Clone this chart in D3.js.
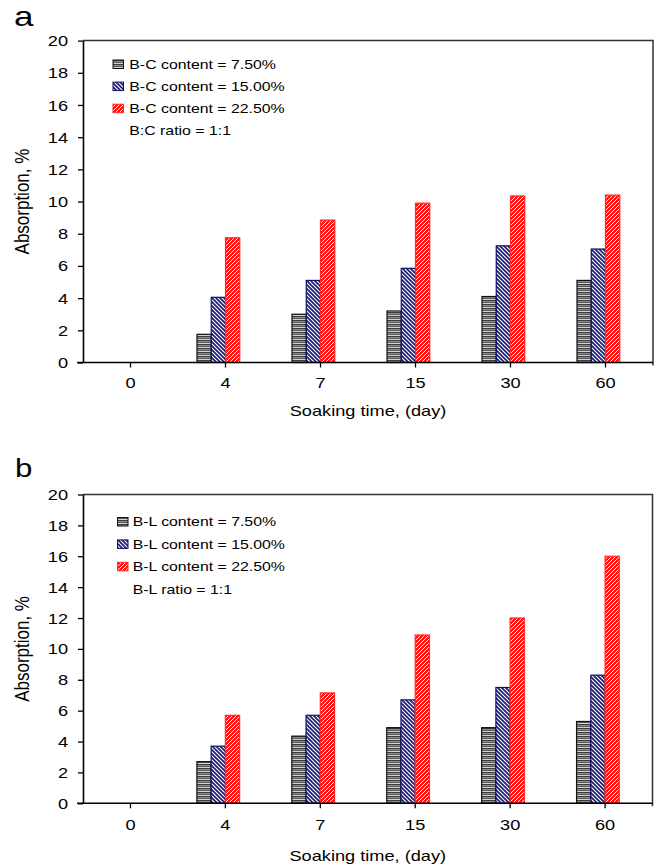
<!DOCTYPE html>
<html>
<head>
<meta charset="utf-8">
<script src="https://cdn.jsdelivr.net/npm/d3@7"></script>
<style>
  body { margin: 0; background: #fff; }
  text { font-family: "Liberation Sans", Arial, sans-serif; fill: #000; }
</style>
</head>
<body>
<svg id="chart" width="661" height="867"></svg>
<script>
// Soaking time categories (days)
const days = ["0", "4", "7", "15", "30", "60"];
const yTicks = [0, 2, 4, 6, 8, 10, 12, 14, 16, 18, 20];

// Panel a: B-C blends, absorption %
const bcLow  = [0, 1.75, 3.0, 3.2, 4.1, 5.1];
const bcMid  = [0, 4.05, 5.1, 5.85, 7.25, 7.05];
const bcHigh = [0, 7.75, 8.85, 9.9, 10.35, 10.4];

// Panel b: B-L blends, absorption %
const blLow  = [0, 2.7, 4.35, 4.9, 4.9, 5.3];
const blMid  = [0, 3.7, 5.7, 6.7, 7.5, 8.3];
const blHigh = [0, 5.7, 7.15, 10.9, 12.0, 16.0];

const bcLabels = ["B-C content = 7.50%", "B-C content = 15.00%", "B-C content = 22.50%"];
const blLabels = ["B-L content = 7.50%", "B-L content = 15.00%", "B-L content = 22.50%"];
const bcNote = "B:C ratio = 1:1";
const blNote = "B-L ratio = 1:1";
const xTitle = "Soaking time, (day)";
const yTitle = "Absorption, %";

const SX = 1.3; // horizontal text stretch

const svg = d3.select("#chart");
const defs = svg.append("defs");

// Horizontal-line gray fill
const pGray = defs.append("pattern").attr("id", "pGray")
  .attr("patternUnits", "userSpaceOnUse").attr("width", 4).attr("height", 4);
["#3c3c3c", "#8c8c8c", "#5a5a5a", "#d2d2d2"].forEach((c, i) =>
  pGray.append("rect").attr("x", 0).attr("y", i).attr("width", 4).attr("height", 1).attr("fill", c));

// Navy with white "\" hatching
const pNavy = defs.append("pattern").attr("id", "pNavy")
  .attr("patternUnits", "userSpaceOnUse").attr("width", 4).attr("height", 4);
pNavy.append("rect").attr("width", 4).attr("height", 4).attr("fill", "#1c1c7a");
pNavy.append("path").attr("d", "M0,0L4,4M-1,3L1,5M3,-1L5,1")
  .attr("stroke", "#fff").attr("stroke-width", 1.1);

// Red with white "/" hatching
const pRed = defs.append("pattern").attr("id", "pRed")
  .attr("patternUnits", "userSpaceOnUse").attr("width", 4).attr("height", 4);
pRed.append("rect").attr("width", 4).attr("height", 4).attr("fill", "#ff1414");
pRed.append("path").attr("d", "M0,4L4,0M-1,1L1,-1M3,5L5,3")
  .attr("stroke", "#fff").attr("stroke-width", 1.0).attr("stroke-opacity", 0.9);

const fills = ["url(#pGray)", "url(#pNavy)", "url(#pRed)"];
const strokes = ["#111", "#10106a", "#ff2a2a"];

const panels = [
  { letter: "a", series: [bcLow, bcMid, bcHigh], labels: bcLabels, note: bcNote,
    left: 83, right: 653, top: 40.6, bottom: 362.5,
    letterX: 14, letterY: 26, letterSize: 28, letterSX: 1.25,
    swX: 113, txX: 129.3, legY0: 64.5, legStep: 22.1, tickLabelDy: 26, titleY: 416 },
  { letter: "b", series: [blLow, blMid, blHigh], labels: blLabels, note: blNote,
    left: 83, right: 652.5, top: 494.5, bottom: 803.3,
    letterX: 15, letterY: 477, letterSize: 25, letterSX: 1.25,
    swX: 117.5, txX: 132.7, legY0: 522, legStep: 22.4, tickLabelDy: 26.7, titleY: 861 }
];

panels.forEach(p => {
  const g = svg.append("g");
  const x = d3.scaleBand().domain(days).range([p.left, p.right])
    .paddingInner(0.4).paddingOuter(0.2);
  // four slots per group: three content levels plus the (empty) ratio entry
  const slots = [0, 1, 2, 3];
  const x1 = d3.scaleBand().domain(slots).range([0, x.bandwidth()]);
  const y = d3.scaleLinear().domain([0, 20]).range([p.bottom, p.top]);

  // bars
  p.series.forEach((vals, si) => {
    g.append("g").selectAll("rect")
      .data(vals.map((v, i) => ({ day: days[i], v })).filter(d => d.v > 0))
      .join("rect")
      .attr("x", d => x(d.day) + x1(si))
      .attr("y", d => y(d.v))
      .attr("width", x1.bandwidth())
      .attr("height", d => y(0) - y(d.v))
      .attr("fill", fills[si])
      .attr("stroke", strokes[si])
      .attr("stroke-width", 1.2);
  });

  // frame: top and right
  g.append("path")
    .attr("d", `M${p.left},${p.top}H${p.right}V${p.bottom + 3}`)
    .attr("fill", "none").attr("stroke", "#333").attr("stroke-width", 1.5);

  // y axis
  const ya = g.append("g").attr("transform", `translate(${p.left},0)`)
    .call(d3.axisLeft(y).tickValues(yTicks).tickSize(5).tickSizeOuter(0));
  ya.select(".domain").attr("stroke", "#000").attr("stroke-width", 1.6);
  ya.selectAll(".tick line").attr("stroke", "#000").attr("stroke-width", 1.3);
  ya.selectAll(".tick text")
    .attr("font-size", 14).attr("font-family", null)
    .attr("x", -15 / SX).attr("dy", "0.36em")
    .attr("transform", `scale(${SX},1)`);

  // x axis
  const xa = g.append("g").attr("transform", `translate(0,${p.bottom})`)
    .call(d3.axisBottom(x).tickSize(5).tickSizeOuter(0));
  xa.select(".domain").attr("stroke", "#000").attr("stroke-width", 1.6)
    .attr("d", `M${p.left - 6},0H${p.right}`);
  xa.selectAll(".tick line").attr("stroke", "#000").attr("stroke-width", 1.3);
  xa.selectAll(".tick text")
    .attr("font-size", 14).attr("font-family", null)
    .attr("y", p.tickLabelDy).attr("dy", 0)
    .attr("transform", `scale(${SX},1)`);

  // axis titles
  g.append("text")
    .attr("transform", `translate(${(p.left + p.right) / 2},${p.titleY}) scale(${SX},1)`)
    .attr("text-anchor", "middle").attr("font-size", 14).text(xTitle);
  g.append("text")
    .attr("transform", `translate(29,${(p.top + p.bottom) / 2}) scale(1.15,1) rotate(-90)`)
    .attr("text-anchor", "middle").attr("font-size", 17).text(yTitle);

  // panel letter
  g.append("text")
    .attr("transform", `translate(${p.letterX},${p.letterY}) scale(${p.letterSX},1)`)
    .attr("font-size", p.letterSize).text(p.letter);

  // legend
  const leg = g.append("g");
  p.labels.forEach((lab, i) => {
    const cy = p.legY0 + i * p.legStep;
    leg.append("rect")
      .attr("x", p.swX).attr("y", cy - 4.5).attr("width", 10.5).attr("height", 8.5)
      .attr("fill", fills[i]).attr("stroke", strokes[i]).attr("stroke-width", 1);
    leg.append("text")
      .attr("transform", `translate(${p.txX},${cy + 4.3}) scale(${SX},1)`)
      .attr("font-size", 12.2).text(lab);
  });
  leg.append("text")
    .attr("transform", `translate(${p.txX},${p.legY0 + 3 * p.legStep + 4.3}) scale(${SX},1)`)
    .attr("font-size", 12.2).text(p.note);
});
</script>
</body>
</html>
